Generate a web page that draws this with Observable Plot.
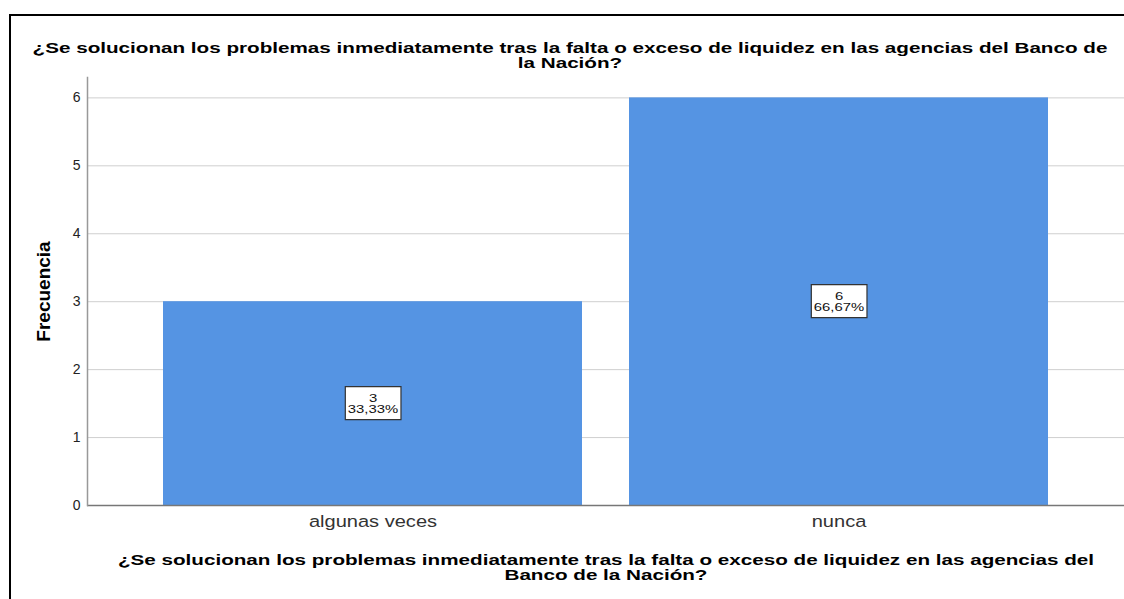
<!DOCTYPE html>
<html><head><meta charset="utf-8">
<script src="https://cdn.jsdelivr.net/npm/d3@7"></script>
<script src="https://cdn.jsdelivr.net/npm/@observablehq/plot@0.6"></script>
<style>
body{margin:0;background:#fff;font-family:"Liberation Sans",Arial,sans-serif;}
#wrap{position:relative;width:1124px;height:599px;overflow:hidden;background:#fff;}
#frame{position:absolute;left:9px;top:14px;width:2000px;height:2000px;border-left:2px solid #000;border-top:2px solid #000;box-sizing:border-box;}
.title{position:absolute;font-weight:bold;font-size:15px;text-align:center;line-height:15px;color:#000;white-space:nowrap;width:2000px;transform:scaleX(1.376);transform-origin:50% 50%;}
#chart{position:absolute;left:0;top:0;}
</style></head><body>
<div id="wrap"><div id="frame"></div><div id="chart"></div>
<div class="title" id="t1" style="left:-430px;top:40px"></div>
<div class="title" id="t2" style="left:-394px;top:552px"></div>
</div>
<script>
const titleLines = ["¿Se solucionan los problemas inmediatamente tras la falta o exceso de liquidez en las agencias del Banco de", "la Nación?"];
const xTitleLines = ["¿Se solucionan los problemas inmediatamente tras la falta o exceso de liquidez en las agencias del", "Banco de la Nación?"];
const yTitle = "Frecuencia";
const categories = ["algunas veces", "nunca"];
const counts = [3, 6];
const yTicks = [0, 1, 2, 3, 4, 5, 6];

document.getElementById("t1").innerHTML = titleLines.join("<br>");
document.getElementById("t2").innerHTML = xTitleLines.join("<br>");

const total = d3.sum(counts);
const data = categories.map((c, i) => ({cat: c, n: counts[i], pct: (counts[i] / total * 100).toFixed(2).replace(".", ",") + "%"}));

const plot = Plot.plot({
  width: 1124, height: 599,
  marginLeft: 87, marginRight: 0, marginTop: 77, marginBottom: 94,
  style: {fontFamily: "'Liberation Sans', Arial, sans-serif", background: "transparent", overflow: "visible"},
  x: {domain: categories, paddingInner: 0.1, paddingOuter: 0.161, label: null},
  y: {domain: [0, 6.3], label: null},
  marks: [
    Plot.gridY(yTicks.filter(t => t > 0), {stroke: "#cfcfcf", strokeOpacity: 1, strokeWidth: 1}),
    Plot.barY(data, {x: "cat", y: "n", fill: "#5594e3"}),
    Plot.ruleY([0], {stroke: "#777", strokeWidth: 1.5}),
    Plot.frame({anchor: "left", stroke: "#999", strokeWidth: 1.5}),
    Plot.axisY({ticks: yTicks, tickFormat: d3.format("d"), tickSize: 0, tickPadding: 7, fontSize: 14, fill: "#222", label: null}),
    Plot.axisX({tickSize: 0, tickPadding: 9, fontSize: 17, fill: "#333", label: null}),
    Plot.text(data, {x: "cat", y: d => d.n / 2, text: d => `${d.n}\n${d.pct}`, fontSize: 11, lineHeight: 1.0, fill: "#111"}),
    Plot.text([yTitle], {text: d => d, frameAnchor: "left", textAnchor: "middle", dx: -44, rotate: -90, fontSize: 19, fontWeight: "bold", fill: "#000"})
  ]
});
document.getElementById("chart").appendChild(plot);

const svg = d3.select(plot);
// widen the x-axis category labels
svg.selectAll('g[aria-label="x-axis tick label"] text').each(function() {
  const t = this.getAttribute("transform") || "";
  this.setAttribute("transform", t + " scale(1.18,1)");
});
// boxed value labels
svg.selectAll('g[aria-label="text"] text').filter(function() { return this.querySelector("tspan"); }).each(function() {
  const s = 1.35;
  const t = this.getAttribute("transform") || "";
  const b = this.getBBox();
  const px = 2.5 / s, py = 5;
  this.setAttribute("transform", t + ` scale(${s},1)`);
  d3.select(this.parentNode).insert("rect", () => this)
    .attr("transform", t + ` scale(${s},1)`)
    .attr("x", b.x - px).attr("y", b.y - py)
    .attr("width", b.width + 2 * px).attr("height", b.height + 2 * py)
    .attr("fill", "#fff").attr("stroke", "#333").attr("stroke-width", 1.2)
    .attr("vector-effect", "non-scaling-stroke");
});
</script>
</body></html>
